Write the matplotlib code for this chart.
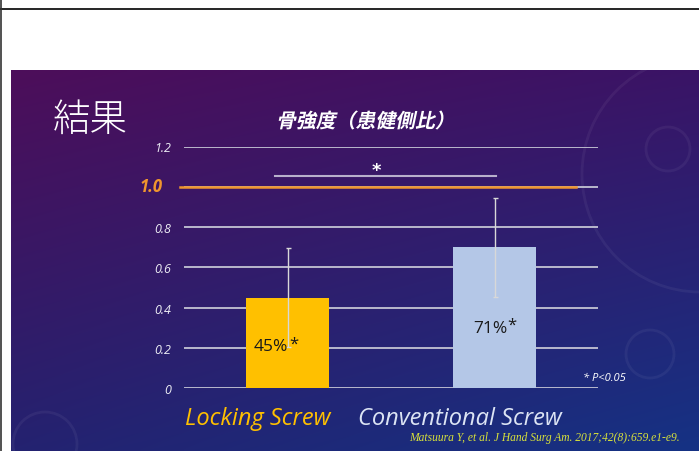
import numpy as np
import matplotlib.pyplot as plt
from matplotlib.lines import Line2D
from matplotlib.patches import Circle, PathPatch
from matplotlib.textpath import TextPath
from matplotlib.font_manager import FontProperties
from matplotlib.transforms import Affine2D

# データ
groups = ['Locking Screw', 'Conventional Screw']
ratio = [0.45, 0.70]
sd = [0.245, 0.245]
pct_labels = ['45%', '71%']
yticks = [0, 0.2, 0.4, 0.6, 0.8, 1.0, 1.2]
ytick_labels = ['0', '0.2', '0.4', '0.6', '0.8', '', '1.2']
bar_colors = ['#FFC000', '#B4C7E7']
name_colors = ['#FFC000', '#DCE4F4']

W, H = 699, 452
fig = plt.figure(figsize=(W/100, H/100), dpi=100)
fig.patch.set_facecolor('white')

def fx(px): return px/W
def fy(py): return 1-py/H

# 枠線
fig.add_artist(Line2D([0, 1], [fy(9.5), fy(9.5)], color='black', lw=1.2))
fig.add_artist(Line2D([fx(0.7), fx(0.7)], [0, 1], color='#333333', lw=1.2))

# 背景グラデーション
bg = fig.add_axes([fx(11), 0, 1-fx(11), fy(71)])
c_tl = np.array([0x4d, 0x0e, 0x5a])/255
c_tr = np.array([0x3a, 0x14, 0x66])/255
c_bl = np.array([0x24, 0x22, 0x70])/255
c_br = np.array([0x15, 0x32, 0x84])/255
u = np.linspace(0, 1, 200)[None, :, None]
v = np.linspace(0, 1, 120)[:, None, None]
img = (1-v)*((1-u)*c_tl + u*c_tr) + v*((1-u)*c_bl + u*c_br)
bg.imshow(img, aspect='auto', extent=[11, W, H, 71], interpolation='bilinear')
for (cx, cy, r) in [(45, 445, 32), (700, 175, 118), (668, 150, 22), (650, 355, 24)]:
    bg.add_patch(Circle((cx, cy), r, fill=False, ec='white', lw=2, alpha=0.05))
bg.set_xlim(11, W)
bg.set_ylim(H, 71)
bg.axis('off')

# メイングラフ
ax = fig.add_axes([fx(184), fy(389.3), fx(598)-fx(184), fy(147.5)-fy(389.3)])
ax.patch.set_alpha(0)
ax.set_xlim(-0.5, 1.5)
ax.set_ylim(0, 1.2)
for t in yticks:
    ax.axhline(t, color='#c4c4d4', lw=1.3, zorder=1)
ax.plot([(180-184)/414, (576-184)/414], [1.0, 1.0], color='#F0962E', lw=1.8,
        transform=ax.get_yaxis_transform(), clip_on=False, zorder=2)

x = np.arange(len(groups))
ax.bar(x, ratio, width=0.4, color=bar_colors, zorder=3)
ax.errorbar(x, ratio, yerr=sd, fmt='none', ecolor='#d8d8d8', elinewidth=1,
            capsize=1.8, capthick=1, zorder=4)

label_dx = [-0.162, -0.105]
label_y = [0.21, 0.30]
for i in range(len(groups)):
    t = ax.text(x[i]+label_dx[i], label_y[i], pct_labels[i], ha='left', va='center',
                fontsize=12.5, color='#1a1a1a', family='Open Sans', zorder=5)
    ax.annotate('*', xy=(1, 0.5), xycoords=t, xytext=(0.5, 2), textcoords='offset points',
                ha='left', va='center', fontsize=12, color='#1a1a1a', family='Open Sans')

ax.set_yticks(yticks)
ax.set_yticklabels(ytick_labels, fontsize=9, color='#ececf4', style='italic', family='Open Sans')
ax.tick_params(axis='y', length=0, pad=9)
ax.set_xticks([])
for s in ax.spines.values():
    s.set_visible(False)

# 1.0 強調
fig.text(fx(163), fy(187), '1.0', ha='right', va='center', fontsize=12, color='#F0962E',
         style='italic', weight='bold', family='Open Sans')

# 有意差
ax.plot([(275-184)/414, (496-184)/414], [1.055, 1.055], color='#b8b0cc', lw=1.5,
        transform=ax.get_yaxis_transform(), clip_on=False)
fig.text(fx(376.5), fy(171), '*', ha='center', va='center', fontsize=13, color='white',
         weight='bold', family='DejaVu Sans')

# タイトル
fig.text(fx(90), fy(120), '結果', ha='center', va='center', fontsize=27, color='white',
         family='Noto Sans CJK JP', weight='light')

# 斜体風のグラフタイトル (CJKフォントに斜体がないので変形で傾ける)
tp = TextPath((0, 0), '骨強度（患健側比）', size=14.3,
              prop=FontProperties(family='Noto Sans CJK JP', weight='bold'))
ext = tp.get_extents()
tr = (Affine2D().translate(-(ext.x0+ext.x1)/2, -(ext.y0+ext.y1)/2)
      .skew_deg(12, 0).scale(100/72).translate(361, H-121))
fig.add_artist(PathPatch(tp, transform=tr, fc='white', ec='none'))

# 群名
name_x = [258, 460]
for i in range(len(groups)):
    fig.text(fx(name_x[i]), fy(419), groups[i], ha='center', va='center', fontsize=17,
             color=name_colors[i], style='italic', family='Open Sans')

fig.text(fx(626), fy(379), '* P<0.05', ha='right', va='center', fontsize=8,
         color='white', style='italic', family='Open Sans')
fig.text(fx(680), fy(438), 'Matsuura Y, et al. J Hand Surg Am. 2017;42(8):659.e1-e9.',
         ha='right', va='center', fontsize=8.3, color='#D8E23A', style='italic',
         family='Liberation Serif')

fig.savefig('out.png', dpi=100)
